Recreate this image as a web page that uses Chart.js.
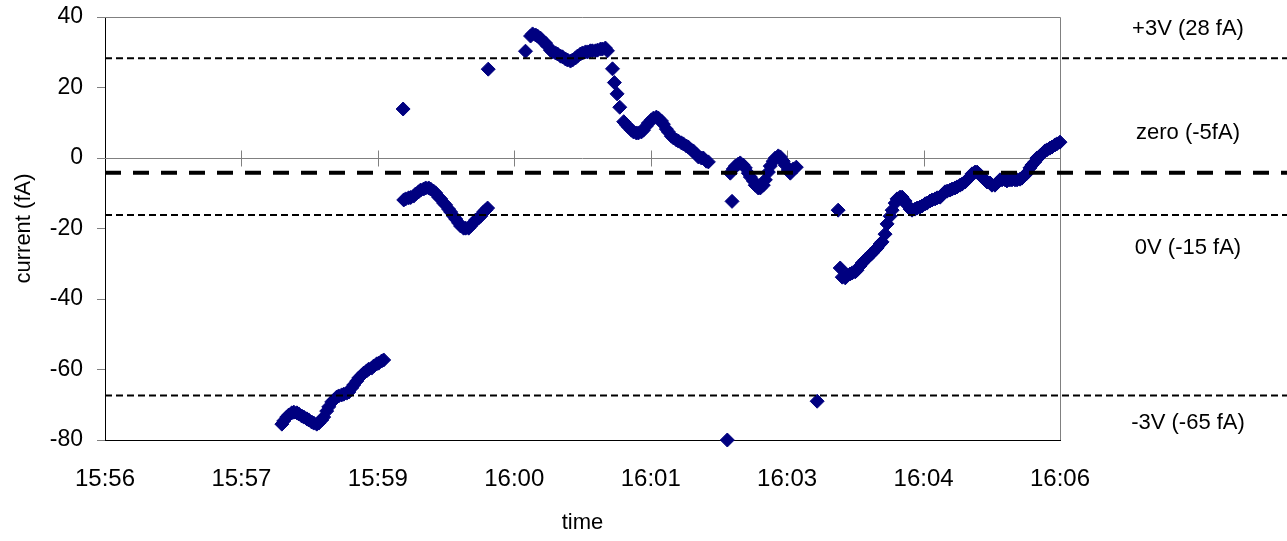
<!DOCTYPE html>
<html>
<head>
<meta charset="utf-8">
<script src="https://cdn.jsdelivr.net/npm/chart.js@4.4.0/dist/chart.umd.min.js"></script>
<style>
  html, body { margin: 0; padding: 0; background: #fff; }
  canvas { display: block; }
</style>
</head>
<body>
<canvas id="chart" width="1287" height="541"></canvas>
<script>
// --- DATA ---
// time = seconds after 15:56:00, current in fA
const timeSec = [
  122.8, 124.0, 125.9, 127.2, 129.1, 130.4, 132.3, 133.5, 135.4, 136.7, 138.6, 139.8, 141.7, 143.0,
  144.9, 146.2, 148.1, 149.3, 151.2, 152.5, 154.4, 155.7, 157.6, 158.8, 160.7, 162.0, 163.9, 165.2,
  167.1, 168.3, 170.2, 171.5, 173.4, 174.7, 176.5, 177.8, 179.7, 181.0, 182.9, 184.1, 186.0, 187.3,
  199.6, 200.0, 201.2, 203.1, 204.4, 206.3, 207.5, 209.4, 210.7, 212.6, 213.9, 215.8, 217.0, 218.9,
  220.2, 222.1, 223.4, 225.3, 226.5, 228.4, 229.7, 231.6, 232.9, 234.7, 236.0, 237.9, 239.2, 241.1,
  242.3, 244.2, 245.5, 247.4, 248.7, 250.6, 251.8, 253.1, 253.5,
  277.1, 280.3, 281.6, 283.5, 284.7, 286.6, 287.9, 289.8, 291.0, 292.9, 294.2, 296.1, 297.4, 299.3,
  300.5, 302.4, 303.7, 305.6, 306.9, 308.8, 310.0, 311.9, 313.2, 315.1, 316.4, 318.2, 319.5, 321.4,
  322.7, 324.6, 325.8, 327.7, 329.0, 332.2, 333.4, 335.1, 336.8, 339.3, 341.0, 342.3, 344.2, 345.5,
  347.3, 348.6, 350.5, 351.8, 353.7, 354.9, 356.8, 358.1, 360.0, 361.3, 363.2, 364.4, 366.3, 367.6,
  369.5, 370.8, 372.7, 373.9, 375.8, 377.1, 379.0, 380.2, 382.1, 383.4, 385.3, 386.6, 388.5, 389.7,
  391.6, 392.9,
  404.9, 406.8, 407.9, 408.7, 410.0, 411.9, 413.1, 415.0, 416.3, 418.2, 419.5, 421.4, 422.6, 424.5,
  425.8, 427.7, 429.0, 430.9, 432.1, 434.0, 435.3, 437.2, 438.5, 440.3, 441.6, 443.5, 444.8, 446.7,
  448.6,
  461.8, 475.1, 476.4, 477.7, 479.6, 480.8, 482.7, 484.0, 485.9, 487.1, 489.0, 490.3, 492.2, 493.5,
  495.4, 496.6, 498.5, 499.8, 501.7, 502.9, 504.8, 506.1, 508.0, 509.3, 511.2, 512.4, 514.3, 515.6,
  517.5, 518.8, 520.7, 521.9, 523.8, 525.1, 527.0, 528.3, 530.2, 531.4, 533.3, 534.6, 536.5, 537.8,
  539.7, 540.9, 542.8, 544.1,
  546.0, 547.3, 549.1, 550.4, 552.3, 553.6, 555.5, 556.7, 558.6, 559.9, 561.8, 563.1, 565.0, 566.2,
  568.1, 569.4, 571.3, 572.5, 574.4, 575.7, 577.6, 578.9, 580.8, 582.0, 583.9, 585.2, 587.1, 588.4,
  590.3, 591.5, 593.4, 594.7, 596.6, 597.8, 599.7, 601.0, 602.9, 604.2, 606.1, 607.3, 609.2, 610.5,
  612.4, 613.6, 615.6
];
const currentFA = [
  -75.5, -74.6, -73.5, -72.9, -72.3, -72.1, -72.3, -72.6, -73.2, -73.5, -74.0, -74.3, -74.9, -75.2,
  -75.5, -75.2, -74.3, -73.5, -71.8, -70.6, -69.2, -68.7, -67.8, -67.5, -67.2, -67.0, -66.7, -66.4,
  -65.2, -64.4, -63.3, -62.4, -61.6, -61.0, -60.4, -59.9, -59.6, -59.0, -58.4, -58.2, -57.6, -57.3,
  13.9, -11.9, -11.6, -11.3, -11.2, -10.8, -10.2, -9.6, -9.1, -8.8, -8.5, -8.5, -8.8, -9.4,
  -9.9, -11.1, -11.6, -12.8, -13.3, -14.5, -15.3, -16.5, -17.3, -18.4, -19.3, -19.9, -19.9, -19.9,
  -19.3, -18.4, -17.6, -17.0, -16.5, -15.3, -14.8, -14.2, 25.2,
  30.3, 34.6, 35.2, 34.9, 34.6, 34.0, 33.2, 32.6, 31.8, 30.6, 30.1, 29.8, 29.5, 28.9,
  28.7, 28.1, 27.8, 27.5, 27.8, 28.4, 28.9, 29.5, 29.8, 30.1, 30.1, 30.4, 30.4, 30.4,
  30.6, 30.9, 30.9, 31.2, 30.4, 25.3, 21.4, 18.2, 14.4, 10.3, 9.4, 8.8, 7.9, 7.4,
  7.1, 7.1, 7.4, 7.9, 9.1, 9.9, 10.8, 11.3, 11.6, 11.3, 10.5, 9.6, 8.2, 7.4,
  6.2, 5.7, 5.1, 4.8, 4.3, 4.0, 3.4, 3.1, 2.3, 2.0, 1.1, 0.3, 0.0, 0.0,
  -0.9, -1.1,
  -80.0, -4.3, -12.3, -3.1, -2.3, -1.7, -1.4, -2.0, -2.8, -4.3, -5.4, -6.5, -7.7, -8.5,
  -8.5, -7.7, -6.2, -4.0, -2.3, -0.9, 0.0, 0.6, 0.3, -0.9, -2.0, -3.4, -4.3, -3.1,
  -2.6,
  -69.0, -14.8, -31.2, -33.8, -34.0, -33.2, -32.9, -32.6, -32.3, -31.8, -30.6, -29.8, -28.9, -28.4,
  -27.5, -27.0, -26.1, -25.5, -24.4, -23.8, -21.6, -18.7, -16.5, -14.8, -12.8, -11.6, -11.1, -11.1,
  -12.2, -13.3, -14.5, -14.8, -14.5, -14.2, -13.9, -13.6, -13.0, -12.8, -12.2, -11.9, -11.6, -11.3,
  -11.1, -10.5, -9.6, -9.4,
  -9.1, -8.8, -8.5, -8.2, -7.7, -7.4, -6.8, -6.2, -5.4, -4.5, -4.0, -4.0, -4.8, -5.4,
  -6.2, -6.8, -7.1, -7.7, -7.7, -7.1, -6.2, -6.2, -6.2, -6.5, -6.2, -6.2, -6.2, -6.2,
  -6.0, -5.7, -4.8, -4.3, -2.8, -2.0, -1.1, 0.0, 0.6, 1.1, 2.0, 2.3, 2.8, 3.1,
  3.7, 4.0, 4.5
];
const tickLabels = ["15:56", "15:57", "15:59", "16:00", "16:01", "16:03", "16:04", "16:06"];
const refLevels = [28.3, -4.2, -16.2, -67.4];  // fA
const refNotes = ["+3V (28 fA)", "zero (-5fA)", "0V (-15 fA)", "-3V (-65 fA)"];

// axis runs in steps of 0.001 day (86.4 s)
const axisStart = 10.8;
const axisStep = 86.4;
const tickSec = tickLabels.map((_, i) => axisStart + axisStep * i);

const FONT = '"Liberation Sans", Arial, sans-serif';

// zero line + frame under the points, dashed levels and notes over them
const levelLines = {
  id: 'levelLines',
  beforeDatasetsDraw(chart) {
    const { ctx, chartArea: a, scales: { x, y } } = chart;
    ctx.save();
    ctx.strokeStyle = '#808080';
    ctx.lineWidth = 1;
    ctx.beginPath();
    ctx.moveTo(a.left, a.top + 0.5);
    ctx.lineTo(a.right + 0.5, a.top + 0.5);
    ctx.lineTo(a.right + 0.5, a.bottom);
    const y0 = Math.round(y.getPixelForValue(0)) + 0.5;
    ctx.moveTo(a.left, y0);
    ctx.lineTo(a.right, y0);
    x.ticks.slice(1, -1).forEach(t => {
      const px = Math.round(x.getPixelForValue(t.value)) + 0.5;
      ctx.moveTo(px, y0 - 8);
      ctx.lineTo(px, y0 + 8);
    });
    ctx.stroke();
    ctx.restore();
  },
  afterDatasetsDraw(chart, args, opts) {
    const { ctx, chartArea: a, scales: { y } } = chart;
    ctx.save();
    ctx.strokeStyle = '#000';
    refLevels.forEach((v, i) => {
      const thick = i === 1;
      ctx.lineWidth = thick ? 4 : 2;
      ctx.setLineDash(thick ? [16, 12] : [7, 4]);
      const py = y.getPixelForValue(v);
      ctx.beginPath();
      ctx.moveTo(a.left, py);
      ctx.lineTo(chart.width, py);
      ctx.stroke();
    });
    ctx.setLineDash([]);
    ctx.fillStyle = '#000';
    ctx.font = '22px ' + FONT;
    ctx.textAlign = 'center';
    ctx.textBaseline = 'middle';
    refNotes.forEach((s, i) => ctx.fillText(s, opts.noteX, y.getPixelForValue(opts.noteAt[i])));
    ctx.restore();
  }
};

new Chart(document.getElementById('chart'), {
  type: 'scatter',
  data: {
    datasets: [{
      data: timeSec.map((t, i) => ({ x: t, y: currentFA[i] })),
      pointStyle: 'rectRot',
      pointRadius: 7,
      borderWidth: 1,
      backgroundColor: '#000080',
      borderColor: '#000080',
      clip: false
    }]
  },
  options: {
    responsive: false,
    animation: false,
    layout: { padding: { top: 17, right: 227, left: 0, bottom: 0 } },
    plugins: {
      legend: { display: false },
      tooltip: { enabled: false },
      levelLines: { noteX: 1188, noteAt: [36.5, 7.1, -25.5, -75.2] }
    },
    scales: {
      x: {
        type: 'linear',
        min: axisStart,
        max: axisStart + axisStep * (tickLabels.length - 1),
        afterBuildTicks: s => { s.ticks = tickSec.map(v => ({ value: v })); },
        afterFit: s => { s.height = 101; },
        ticks: {
          autoSkip: false, maxRotation: 0, color: '#000', padding: 25,
          font: { family: FONT, size: 24 },
          callback: (v, i) => tickLabels[i]
        },
        grid: { display: false, drawTicks: false },
        border: { color: '#000', width: 1 },
        title: { display: true, text: 'time', color: '#000', font: { family: FONT, size: 22 }, padding: { top: 0, bottom: 5 } }
      },
      y: {
        min: -80,
        max: 40,
        afterFit: s => { s.width = 105; s.paddingTop = 0; s.paddingBottom = 0; },
        ticks: { stepSize: 20, color: '#000', padding: 14, font: { family: FONT, size: 23 } },
        grid: { drawOnChartArea: false, color: '#808080', tickLength: 8 },
        border: { color: '#000', width: 1 },
        title: { display: true, text: 'current (fA)', color: '#000', font: { family: FONT, size: 22 }, padding: { top: 11, bottom: 0 } }
      }
    }
  },
  plugins: [levelLines]
});
</script>
</body>
</html>
